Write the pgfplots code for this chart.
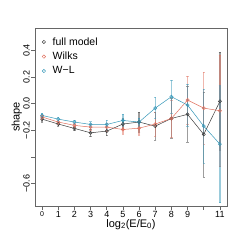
\documentclass[border=0pt]{standalone}
\usepackage{fontspec}
\setmainfont{Liberation Sans}
\usepackage{pgfplots}
\usepackage{pgfplotstable}
\pgfplotsset{compat=1.18}
\definecolor{fm}{HTML}{3C3C3C}
\definecolor{wk}{HTML}{E0705E}
\definecolor{wl}{HTML}{3597B8}
\definecolor{ax}{HTML}{666666}
\pgfplotstableread{
x y e
0 -0.116 0.020
1 -0.153 0.016
2 -0.186 0.016
3 -0.219 0.028
4 -0.206 0.035
5 -0.153 0.040
6 -0.138 0.075
7 -0.169 0.105
8 -0.111 0.150
9 -0.080 0.210
10 -0.231 0.320
11 0.018 0.370
}\fm
\pgfplotstableread{
x y e
0 -0.100 0.018
1 -0.138 0.015
2 -0.163 0.015
3 -0.176 0.022
4 -0.176 0.028
5 -0.194 0.035
6 -0.184 0.055
7 -0.153 0.090
8 -0.111 0.140
9 0.028 0.180
10 -0.033 0.270
11 -0.053 0.420
}\wk
\pgfplotstableread{
x y e
0 -0.088 0.018
1 -0.116 0.015
2 -0.138 0.015
3 -0.156 0.022
4 -0.156 0.035
5 -0.126 0.045
6 -0.138 0.030
7 -0.033 0.080
8 0.053 0.125
9 -0.010 0.160
10 -0.169 0.280
11 -0.304 0.440
}\wl
\begin{document}
\begin{tikzpicture}[x=1pt,y=1pt]
\path[use as bounding box] (0,0) rectangle (241,241);
\begin{axis}[
  at={(35pt,35pt)}, anchor=south west, scale only axis,
  width=192pt, height=178pt,
  xmin=-0.44, xmax=11.44, ymin=-0.77, ymax=0.57,
  axis line style={ax, line width=0.6pt},
  tick style={ax, line width=0.6pt},
  tick align=outside, major tick length=4pt, tick pos=left,
  xtick={0,1,2,3,4,5,6,7,8,9,10,11},
  xticklabels={{\scriptsize 0},1,2,3,4,5,6,7,8,9,,11},
  ytick={-0.6,-0.4,-0.2,0,0.2,0.4},
  yticklabels={−0.6,,−0.2,0.0,0.2,0.4},
  ticklabel style={font=\fontsize{9}{10}\selectfont},
  yticklabel style={rotate=90, anchor=south, inner sep=1pt},
  xticklabel style={inner sep=1pt},
  xlabel={log\textsubscript{2}(E/E\textsubscript{0})},
  ylabel={shape},
  label style={font=\fontsize{11}{12}\selectfont},
  xlabel style={yshift=3pt},
  ylabel style={yshift=-3pt},
  legend style={at={(0.03,0.965)}, anchor=north west, draw=none, fill=none,
    font=\fontsize{10.5}{12}\selectfont, row sep=1.5pt, inner sep=1pt},
  legend cell align=left,
  legend image code/.code={\path[draw=none] (0cm,0cm) -- (0.3cm,0cm);\draw[#1] (0.06cm,0cm) circle (1.7pt);},
]
\addlegendimage{fm, line width=0.5pt}
\addlegendentry{full model}
\addlegendimage{wk, line width=0.5pt}
\addlegendentry{Wilks}
\addlegendimage{wl, line width=0.5pt}
\addlegendentry{W−L}
% error bars
\addplot[forget plot, draw=none, mark=none,
  error bars/.cd, y dir=both, y explicit,
  error bar style={fm, opacity=0.5, line width=1.3pt},
  error mark options={rotate=90, fm, mark size=1.2pt, line width=0.5pt}]
  table[x=x, y=y, y error=e]{\fm};
\addplot[forget plot, draw=none, mark=none,
  error bars/.cd, y dir=both, y explicit,
  error bar style={wk, opacity=0.5, line width=1.3pt},
  error mark options={rotate=90, wk, mark size=1.2pt, line width=0.5pt}]
  table[x=x, y=y, y error=e]{\wk};
\addplot[forget plot, draw=none, mark=none,
  error bars/.cd, y dir=both, y explicit,
  error bar style={wl, opacity=0.5, line width=1.3pt},
  error mark options={rotate=90, wl, mark size=1.2pt, line width=0.5pt}]
  table[x=x, y=y, y error=e]{\wl};
% lines
\addplot[forget plot, fm, line width=0.5pt, mark=o, mark size=1.6pt] table[x=x,y=y]{\fm};
\addplot[forget plot, wk, line width=0.5pt, mark=o, mark size=1.6pt] table[x=x,y=y]{\wk};
\addplot[forget plot, wl, line width=0.5pt, mark=o, mark size=1.6pt] table[x=x,y=y]{\wl};
\end{axis}
\end{tikzpicture}
\end{document}
